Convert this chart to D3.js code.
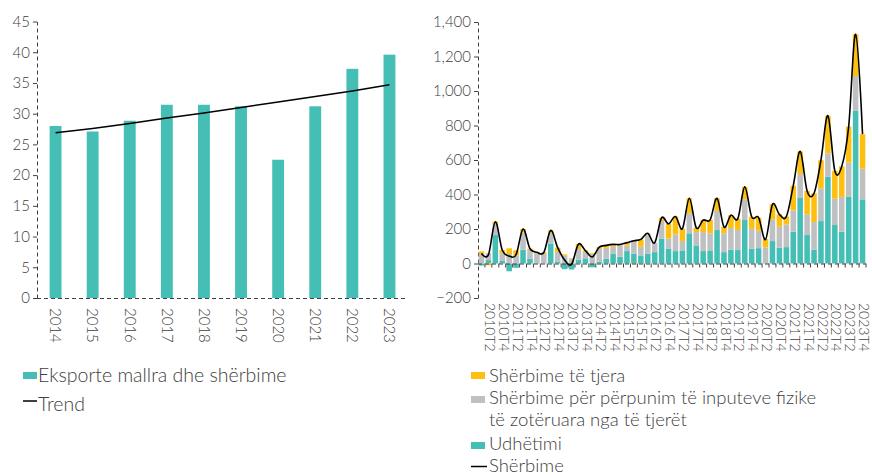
<!DOCTYPE html>
<html>
<head>
<meta charset="utf-8">
<script src="https://cdn.jsdelivr.net/npm/d3@7"></script>
<style>
  body { margin: 0; background: #fff; }
  svg text { font-family: Lato, "Open Sans", sans-serif; font-weight: 300; fill: #404040; }
</style>
</head>
<body>
<div id="chart"></div>
<script>
// left chart: annual exports of goods and services
const years = ["2014", "2015", "2016", "2017", "2018", "2019", "2020", "2021", "2022", "2023"];
const exportsVal = [28.0, 27.1, 28.85, 31.45, 31.45, 31.2, 22.5, 31.2, 37.3, 39.6];
const trendVal = [26.9, 27.6, 28.4, 29.3, 30.1, 31.0, 31.9, 32.8, 33.7, 34.7];
const leftTicks = [0, 5, 10, 15, 20, 25, 30, 35, 40, 45];

// right chart: quarterly services
const quarters = [];
for (let y = 2010; y <= 2023; y++) for (let q = 1; q <= 4; q++) quarters.push(y + "T" + q);
const travel = [-12, 20, 165, 15, -45, -25, 80, 29, 2, 0, 116, 12, -33, -35, 22, 30,
  -22, 10, 27, 58, 39, 72, 58, 47, 58, 66, 145, 87, 72, 76, 175, 105,
  72, 76, 194, 66, 80, 78, 252, 85, 89, 2, 130, 91, 95, 184, 380, 165,
  81, 246, 502, 223, 184, 386, 887, 372];
const processing = [55, 40, 65, 45, 55, 47, 100, 49, 58, 56, 64, 55, 45, 25, 62, 35,
  54, 75, 64, 39, 66, 33, 78, 50, 111, 54, 101, 58, 97, 54, 116, 77,
  110, 99, 111, 109, 125, 116, 120, 116, 101, 91, 126, 122, 132, 124, 138, 120,
  159, 188, 136, 153, 202, 200, 200, 178];
const otherServ = [15, -10, 12, 18, 33, 30, 20, 8, 5, 8, 12, 25, 8, 5, 28, 10,
  6, 10, 14, 14, 5, 16, -4, 43, 6, 0, 19, 85, 103, 72, 87, 25,
  70, 78, 73, 37, 75, 66, 72, 70, 76, 48, 87, 72, 45, 142, 132, 136,
  167, 165, 219, 161, 177, 208, 242, 200];
const servicesTotal = [58, 50, 242, 78, 43, 52, 200, 86, 65, 64, 192, 92, 20, -5, 112, 75,
  38, 95, 105, 111, 110, 121, 132, 140, 175, 120, 265, 230, 272, 202, 378, 207,
  252, 253, 378, 212, 280, 260, 444, 271, 266, 139, 343, 285, 272, 450, 650, 421,
  407, 599, 857, 537, 563, 794, 1329, 750];
const rightTicks = [-200, 0, 200, 400, 600, 800, 1000, 1200, 1400];

const teal = "#45BFB5", grey = "#BFC0C2", yellow = "#FDC010";

const svg = d3.select("#chart").append("svg").attr("width", 872).attr("height", 476);

function styleDomain(g) {
  g.select(".domain").attr("stroke", "#404040").attr("stroke-dasharray", "4,3");
  g.selectAll(".tick line").attr("stroke", "#404040");
  g.selectAll(".tick text").style("font-size", "15px").attr("fill", "#404040");
}

// ---------- left chart ----------
const xL = d3.scaleBand().domain(years).range([37, 408]).paddingInner(0.68).paddingOuter(0.34);
const yL = d3.scaleLinear().domain([0, 45]).range([298, 21.5]);

svg.append("g")
  .attr("transform", "translate(37,0)")
  .call(d3.axisLeft(yL).tickValues(leftTicks).tickSize(4).tickSizeOuter(0).tickPadding(3))
  .call(styleDomain);

svg.append("g").selectAll("rect")
  .data(years)
  .enter().append("rect")
  .attr("x", d => xL(d))
  .attr("width", xL.bandwidth())
  .attr("y", (d, i) => yL(exportsVal[i]))
  .attr("height", (d, i) => yL(0) - yL(exportsVal[i]))
  .attr("fill", teal);

const xAxisL = svg.append("g")
  .attr("transform", "translate(0,298)")
  .call(d3.axisBottom(xL).tickSize(0).tickSizeOuter(0))
  .call(styleDomain);
xAxisL.select(".domain").attr("d", "M37,0.5H405");
xAxisL.selectAll(".tick text")
  .attr("transform", "rotate(90)")
  .attr("x", 10).attr("y", 0).attr("dy", "0.35em")
  .style("text-anchor", "start");

svg.append("path")
  .datum(trendVal)
  .attr("fill", "none")
  .attr("stroke", "#000")
  .attr("stroke-width", 1.5)
  .attr("d", d3.line().x((d, i) => xL(years[i]) + xL.bandwidth() / 2).y(d => yL(d)));

// left legend
const legL = svg.append("g").style("font-size", "19.5px");
legL.append("rect").attr("x", 23).attr("y", 372).attr("width", 14).attr("height", 7).attr("fill", teal);
legL.append("text").attr("x", 38).attr("y", 382).text("Eksporte mallra dhe shërbime");
legL.append("line").attr("x1", 23).attr("x2", 37).attr("y1", 401).attr("y2", 401).attr("stroke", "#000").attr("stroke-width", 1.5);
legL.append("text").attr("x", 38).attr("y", 411).text("Trend");

// ---------- right chart ----------
const xR = d3.scaleBand().domain(quarters).range([478, 866]).paddingInner(0.2).paddingOuter(0.1);
const yR = d3.scaleLinear().domain([-200, 1400]).range([298, 22]);

svg.append("g")
  .attr("transform", "translate(478,0)")
  .call(d3.axisLeft(yR).tickValues(rightTicks).tickSize(4).tickSizeOuter(0).tickPadding(3)
    .tickFormat(d3.format(",")))
  .call(styleDomain);

const rows = quarters.map((q, i) => ({ q: q, travel: travel[i], processing: processing[i], other: otherServ[i] }));
const keys = ["travel", "processing", "other"];
const colors = { travel: teal, processing: grey, other: yellow };
const series = d3.stack().keys(keys).offset(d3.stackOffsetDiverging)(rows);

svg.append("g").selectAll("g")
  .data(series)
  .enter().append("g")
  .attr("fill", d => colors[d.key])
  .selectAll("rect")
  .data(d => d)
  .enter().append("rect")
  .attr("x", d => xR(d.data.q))
  .attr("width", xR.bandwidth())
  .attr("y", d => yR(Math.max(d[0], d[1])))
  .attr("height", d => Math.abs(yR(d[0]) - yR(d[1])));

// zero baseline with category ticks
const zeroAxis = svg.append("g").attr("transform", "translate(0," + yR(0) + ")");
zeroAxis.append("line").attr("x1", 478).attr("x2", 866).attr("y1", 0.5).attr("y2", 0.5)
  .attr("stroke", "#404040").attr("stroke-dasharray", "4,3");
zeroAxis.selectAll(".ct")
  .data(quarters)
  .enter().append("line")
  .attr("class", "ct")
  .attr("x1", d => xR(d) - xR.step() * xR.paddingInner() / 2 + xR.step())
  .attr("x2", d => xR(d) - xR.step() * xR.paddingInner() / 2 + xR.step())
  .attr("y1", 0).attr("y2", 4)
  .attr("stroke", "#404040");

// category labels at the bottom
const labelAxis = svg.append("g")
  .attr("transform", "translate(1.5,298)")
  .call(d3.axisBottom(xR).tickValues(quarters.filter((q, i) => i % 2 === 1)).tickSize(0));
labelAxis.select(".domain").remove();
labelAxis.selectAll(".tick text")
  .style("font-size", "14px").attr("fill", "#404040")
  .attr("transform", "rotate(90)")
  .attr("x", 5).attr("y", 0).attr("dy", "0.35em")
  .style("text-anchor", "start");

svg.append("path")
  .datum(servicesTotal)
  .attr("fill", "none")
  .attr("stroke", "#000")
  .attr("stroke-width", 1.6)
  .attr("d", d3.line()
    .x((d, i) => xR(quarters[i]) + xR.bandwidth() / 2)
    .y(d => yR(d))
    .curve(d3.curveCardinal.tension(0)));

// right legend
const legR = svg.append("g").style("font-size", "18.5px");
legR.append("rect").attr("x", 471).attr("y", 372).attr("width", 14).attr("height", 7).attr("fill", yellow);
legR.append("text").attr("x", 489).attr("y", 382).text("Shërbime të tjera");
legR.append("rect").attr("x", 471).attr("y", 396).attr("width", 14).attr("height", 7).attr("fill", grey);
legR.append("text").attr("x", 489).attr("y", 404).text("Shërbime për përpunim të inputeve fizike");
legR.append("text").attr("x", 489).attr("y", 426).text("të zotëruara nga të tjerët");
legR.append("rect").attr("x", 471).attr("y", 442).attr("width", 14).attr("height", 7).attr("fill", teal);
legR.append("text").attr("x", 489).attr("y", 449.5).text("Udhëtimi");
legR.append("line").attr("x1", 471).attr("x2", 487).attr("y1", 466.5).attr("y2", 466.5).attr("stroke", "#000").attr("stroke-width", 1.5);
legR.append("text").attr("x", 489).attr("y", 472).text("Shërbime");
</script>
</body>
</html>
